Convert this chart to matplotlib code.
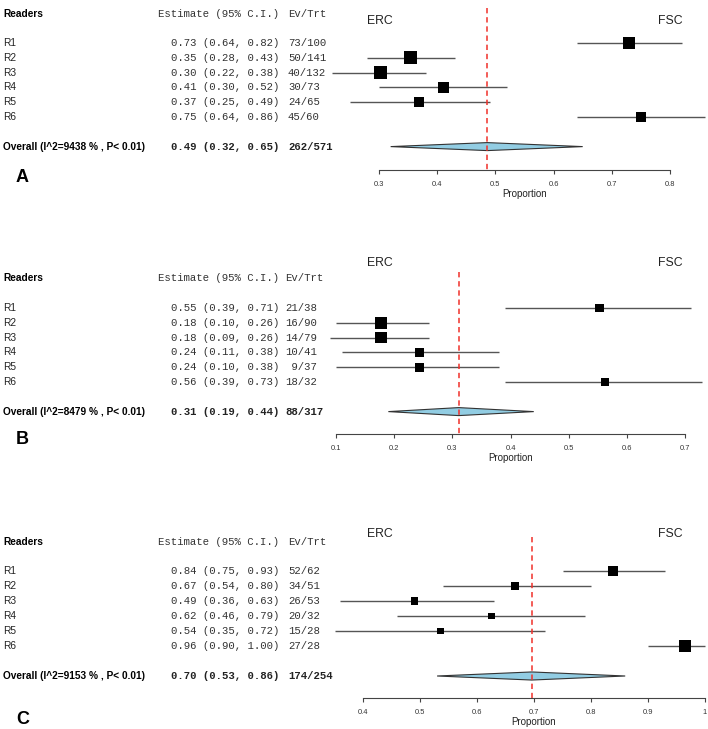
import matplotlib
matplotlib.use("Agg")
import matplotlib.pyplot as plt
import matplotlib.transforms as mtransforms
from matplotlib.patches import Polygon
import numpy as np

readers = ["R1", "R2", "R3", "R4", "R5", "R6"]

# Panel A
a_events = [73, 50, 40, 30, 24, 45]
a_totals = [100, 141, 132, 73, 65, 60]
a_low = [0.64, 0.28, 0.22, 0.30, 0.25, 0.64]
a_high = [0.82, 0.43, 0.38, 0.52, 0.49, 0.86]
a_pooled = [0.486, 0.32, 0.65]
a_i2 = 9438
a_ticks = [0.3, 0.4, 0.5, 0.6, 0.7, 0.8]

# Panel B
b_events = [21, 16, 14, 10, 9, 18]
b_totals = [38, 90, 79, 41, 37, 32]
b_low = [0.39, 0.10, 0.09, 0.11, 0.10, 0.39]
b_high = [0.71, 0.26, 0.26, 0.38, 0.38, 0.73]
b_pooled = [0.311, 0.19, 0.44]
b_i2 = 8479
b_ticks = [0.1, 0.2, 0.3, 0.4, 0.5, 0.6, 0.7]

# Panel C
c_events = [52, 34, 26, 20, 15, 27]
c_totals = [62, 51, 53, 32, 28, 28]
c_low = [0.75, 0.54, 0.36, 0.46, 0.35, 0.90]
c_high = [0.93, 0.80, 0.63, 0.79, 0.72, 1.00]
c_pooled = [0.696, 0.53, 0.86]
c_i2 = 9153
c_ticks = [0.4, 0.5, 0.6, 0.7, 0.8, 0.9, 1.0]

SANS = "Liberation Sans"
MONO = "Liberation Mono"
W, H = 708, 729

fig = plt.figure(figsize=(7.08, 7.29), dpi=100)


def fx(px):
    return px / W


def fy(px):
    return 1 - px / H


def forest(letter, events, totals, low, high, pooled, i2, ticks, lay):
    events = np.array(events)
    totals = np.array(totals)
    p = events / totals
    # square size grows with the inverse-variance weight
    w = totals / (p * (1 - p))
    smin, smax = lay["sq"]
    side = smin + (smax - smin) * (w - w.min()) / (w.max() - w.min())

    r1, step = lay["r1"], lay["step"]
    k_axis = 1 + (lay["axis"] - r1) / step
    k_top = 1 - (r1 - lay["top"]) / step

    def k_of(px):
        return 1 + (px - r1) / step

    ax = fig.add_axes([fx(lay["t0"]), fy(lay["axis"]),
                       (lay["t1"] - lay["t0"]) / W, (lay["axis"] - lay["top"]) / H])
    ax.set_xlim(ticks[0], ticks[-1])
    ax.set_ylim(k_axis, k_top)
    ax.patch.set_alpha(0)
    for s in ["top", "left", "right"]:
        ax.spines[s].set_visible(False)
    ax.spines["bottom"].set_bounds(ticks[0], ticks[-1])
    ax.spines["bottom"].set_color("#444444")
    ax.spines["bottom"].set_linewidth(0.8)
    ax.set_yticks([])
    ax.set_xticks(ticks)
    ax.set_xticklabels([f"{t:g}" for t in ticks], fontfamily=SANS)
    ax.tick_params(axis="x", length=3, width=0.8, pad=5, labelsize=5.4,
                   colors="#444444", labelcolor="#333333")
    ax.set_xlabel("Proportion", fontsize=7, fontfamily=SANS, labelpad=0.5,
                  color="#222222")

    rows = np.arange(1, len(readers) + 1)
    for k, lo, hi in zip(rows, low, high):
        ax.plot([lo, hi], [k, k], color="#555555", lw=1.0, clip_on=False,
                solid_capstyle="butt", zorder=2)
    ax.scatter(p, rows, marker="s", s=(side * 0.72) ** 2, color="black",
               linewidths=0, clip_on=False, zorder=3)

    k_ov = rows[-1] + 2
    h = 0.27
    est, lo, hi = pooled
    ax.add_patch(Polygon([(lo, k_ov), (est, k_ov - h), (hi, k_ov), (est, k_ov + h)],
                         closed=True, facecolor="#92cde3", edgecolor="#333333",
                         lw=0.8, clip_on=False, zorder=2))
    ax.plot([est, est], [k_top, k_axis], color="#f0302a", lw=1.1,
            dashes=(3.5, 2.5), clip_on=False, zorder=4)

    trans = mtransforms.blended_transform_factory(fig.transFigure, ax.transData)
    k_head = k_of(lay["head"])
    ax.text(fx(3), k_head, "Readers", transform=trans, ha="left", va="center",
            fontsize=7.3, fontweight="bold", fontfamily=SANS)
    ax.text(fx(279), k_head, "Estimate (95% C.I.)", transform=trans, ha="right",
            va="center", fontsize=7.7, fontfamily=MONO, color="#333333")
    ax.text(fx(lay["ev"]), k_head, "Ev/Trt", transform=trans, ha="left",
            va="center", fontsize=7.7, fontfamily=MONO, color="#333333")

    for k, name, pi, lo_i, hi_i, e, n in zip(rows, readers, p, low, high, events, totals):
        ax.text(fx(3), k, name, transform=trans, ha="left", va="center",
                fontsize=7.3, fontfamily=SANS, color="#222222")
        ax.text(fx(279), k, f"{pi:.2f} ({lo_i:.2f}, {hi_i:.2f})", transform=trans,
                ha="right", va="center", fontsize=7.7, fontfamily=MONO, color="#333333")
        ax.text(fx(lay["ev"]), k, f"{e:>2}/{n}", transform=trans, ha="left",
                va="center", fontsize=7.7, fontfamily=MONO, color="#333333")

    ax.text(fx(3), k_ov, f"Overall (I^2={i2} % , P< 0.01)", transform=trans,
            ha="left", va="center", fontsize=7.3, fontweight="bold", fontfamily=SANS)
    ax.text(fx(279), k_ov, f"{est:.2f} ({lo:.2f}, {hi:.2f})", transform=trans,
            ha="right", va="center", fontsize=7.7, fontweight="bold", fontfamily=MONO,
            color="#222222")
    ax.text(fx(lay["ev"]), k_ov, f"{events.sum()}/{totals.sum()}", transform=trans,
            ha="left", va="center", fontsize=7.7, fontweight="bold", fontfamily=MONO,
            color="#222222")

    fig.text(fx(380), fy(lay["erc"]), "ERC", ha="center", va="center",
             fontsize=8.8, fontfamily=SANS, color="#222222")
    fig.text(fx(670), fy(lay["erc"]), "FSC", ha="center", va="center",
             fontsize=8.8, fontfamily=SANS, color="#222222")
    fig.text(fx(16), fy(lay["letter"]), letter, ha="left", va="center",
             fontsize=13, fontweight="bold", fontfamily=SANS)


lay_a = dict(top=8, r1=43, step=14.8, axis=170, head=14, erc=21, letter=178,
             t0=379, t1=670, ev=288, sq=(10.3, 13.0))
lay_b = dict(top=272, r1=308, step=14.8, axis=434, head=278, erc=263, letter=440,
             t0=336, t1=685, ev=285, sq=(8.7, 12.3))
lay_c = dict(top=537, r1=571, step=15.0, axis=698, head=542, erc=534, letter=719,
             t0=363, t1=705, ev=288, sq=(6.7, 12.0))

forest("A", a_events, a_totals, a_low, a_high, a_pooled, a_i2, a_ticks, lay_a)
forest("B", b_events, b_totals, b_low, b_high, b_pooled, b_i2, b_ticks, lay_b)
forest("C", c_events, c_totals, c_low, c_high, c_pooled, c_i2, c_ticks, lay_c)

fig.savefig("out.png", dpi=100, facecolor="white")
